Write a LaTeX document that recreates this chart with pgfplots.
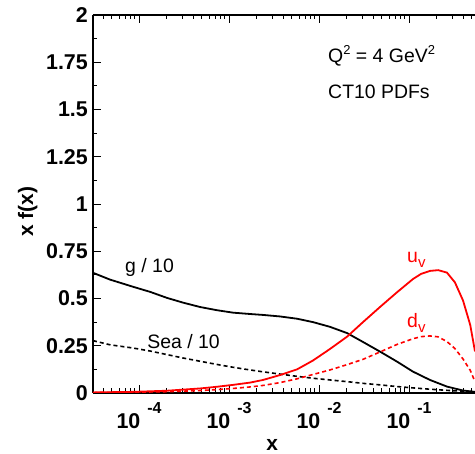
\documentclass[border=0pt]{standalone}
\usepackage{fontspec}
\setmainfont{Liberation Sans}
\usepackage{pgfplots}
\pgfplotsset{compat=1.18}

% ROOT-style 10^n label: big "10", small raised exponent
\newcommand{\tk}[1]{\textbf{10}\hspace{7bp}\raisebox{15bp}{\fontsize{16}{16}\selectfont\textbf{#1}}}
\newcommand{\ann}{\fontsize{19.5}{20}\selectfont}
\newcommand{\sq}{\raisebox{8bp}{\fontsize{13}{13}\selectfont 2}}

\begin{document}
\begin{tikzpicture}
\begin{axis}[
  xmode=log, scale only axis, width=382bp, height=378bp,
  xmin=3.08e-5, xmax=0.541, ymin=0, ymax=2,
  axis x line=box, axis y line=left,
  axis line style={-, line width=1.1bp},
  every outer y axis line/.append style={-},
  tick align=inside, tick style={line width=0.9bp, black},
  major tick length=8bp, minor tick length=4.5bp,
  xtick={1e-4,1e-3,1e-2,1e-1},
  xticklabels={\tk{-4},\tk{-3},\tk{-2},\tk{-1}},
  minor xtick={4e-5,5e-5,6e-5,7e-5,8e-5,9e-5,
    2e-4,3e-4,4e-4,5e-4,6e-4,7e-4,8e-4,9e-4,
    2e-3,3e-3,4e-3,5e-3,6e-3,7e-3,8e-3,9e-3,
    2e-2,3e-2,4e-2,5e-2,6e-2,7e-2,8e-2,9e-2,
    2e-1,3e-1,4e-1,5e-1},
  xticklabel pos=lower,
  ytick={0,0.25,0.5,0.75,1,1.25,1.5,1.75,2},
  yticklabels={0,0.25,0.5,0.75,1,1.25,1.5,1.75,2},
  minor ytick={0.125,0.375,0.625,0.875,1.125,1.375,1.625,1.875},
  ticklabel style={font=\fontsize{21.5}{22}\selectfont\bfseries, inner sep=0pt},
  yticklabel style={xshift=-5bp},
  xticklabel style={anchor=north, yshift=-9bp},
  xlabel={x}, ylabel={x f(x)},
  every axis x label/.style={at={(rel axis cs:0.469,-0.138)}, anchor=center, inner sep=0pt,
    font=\fontsize{21}{22}\selectfont\bfseries},
  every axis y label/.style={at={(rel axis cs:-0.171,0.479)}, anchor=center, rotate=90,
    inner sep=0pt, font=\fontsize{21}{22}\selectfont\bfseries},
]
% g / 10
\addplot[black, line width=1.8bp] coordinates {
 (3.08e-5,0.636) (4.76e-5,0.600) (8.58e-5,0.562) (1.33e-4,0.535) (2.05e-4,0.503)
 (3.09e-4,0.478) (4.76e-4,0.455) (7.35e-4,0.438) (1.11e-3,0.425) (1.71e-3,0.418)
 (2.39e-3,0.413) (3.69e-3,0.405) (5.70e-3,0.393) (8.58e-3,0.375) (0.01325,0.350)
 (0.0205,0.317) (0.0308,0.270) (0.0476,0.219) (0.0736,0.166) (0.1107,0.113)
 (0.171,0.069) (0.264,0.034) (0.398,0.013) (0.541,0.006)};
% Sea / 10
\addplot[black, line width=1.6bp, dash pattern=on 4bp off 3bp] coordinates {
 (3.08e-5,0.277) (4.76e-5,0.255) (8.58e-5,0.238) (1.33e-4,0.222) (2.05e-4,0.203)
 (3.09e-4,0.185) (4.76e-4,0.168) (7.35e-4,0.151) (1.11e-3,0.136) (1.71e-3,0.122)
 (2.39e-3,0.112) (3.69e-3,0.100) (5.70e-3,0.088) (8.58e-3,0.078) (0.01325,0.069)
 (0.0205,0.060) (0.0308,0.051) (0.0476,0.043) (0.0736,0.034) (0.1107,0.027)
 (0.171,0.020) (0.264,0.014) (0.398,0.009) (0.541,0.005)};
% u_v
\addplot[red, line width=1.8bp] coordinates {
 (3.08e-5,0.003) (8.58e-5,0.006) (2.05e-4,0.012) (4.76e-4,0.024) (7.35e-4,0.033)
 (1.11e-3,0.043) (1.71e-3,0.055) (2.39e-3,0.069) (3.69e-3,0.095) (5.70e-3,0.125)
 (8.58e-3,0.172) (0.01325,0.233) (0.0205,0.298) (0.0308,0.375) (0.0476,0.455)
 (0.0736,0.533) (0.1107,0.603) (0.136,0.630) (0.171,0.646) (0.211,0.650)
 (0.264,0.637) (0.324,0.585) (0.398,0.490) (0.479,0.360) (0.541,0.220)};
% d_v
\addplot[red, line width=1.6bp, dash pattern=on 4bp off 3bp] coordinates {
 (3.08e-5,0.002) (8.58e-5,0.004) (2.05e-4,0.007) (4.76e-4,0.013) (7.35e-4,0.018)
 (1.11e-3,0.024) (1.71e-3,0.032) (2.39e-3,0.040) (3.69e-3,0.055) (5.70e-3,0.075)
 (8.58e-3,0.098) (0.01325,0.122) (0.0205,0.150) (0.0308,0.178) (0.0476,0.217)
 (0.0736,0.257) (0.1107,0.287) (0.136,0.298) (0.171,0.302) (0.211,0.297)
 (0.264,0.272) (0.324,0.235) (0.398,0.180) (0.479,0.120) (0.541,0.060)};

\node[anchor=base west, inner sep=0pt, font=\ann] at (axis cs:0.0126,1.751) {Q\sq{} = 4 GeV\sq};
\node[anchor=base west, inner sep=0pt, font=\ann] at (axis cs:0.0126,1.556) {CT10 PDFs};
\node[anchor=base west, inner sep=0pt, font=\ann] at (axis cs:6.99e-5,0.635) {g / 10};
\node[anchor=base west, inner sep=0pt, font=\ann] at (axis cs:1.23e-4,0.233) {Sea / 10};
\node[anchor=base west, inner sep=0pt, font=\ann, red] at (axis cs:0.0951,0.693) {u\raisebox{-5bp}{\fontsize{15}{15}\selectfont v}};
\node[anchor=base west, inner sep=0pt, font=\ann, red] at (axis cs:0.0951,0.349) {d\raisebox{-5bp}{\fontsize{15}{15}\selectfont v}};

\coordinate (bbll) at ([xshift=-93bp,yshift=-61bp]rel axis cs:0,0);
\coordinate (bbur) at ([yshift=15bp]rel axis cs:1,1);
\end{axis}
\pgfresetboundingbox
\path[use as bounding box] (bbll) rectangle (bbur);
\end{tikzpicture}
\end{document}
